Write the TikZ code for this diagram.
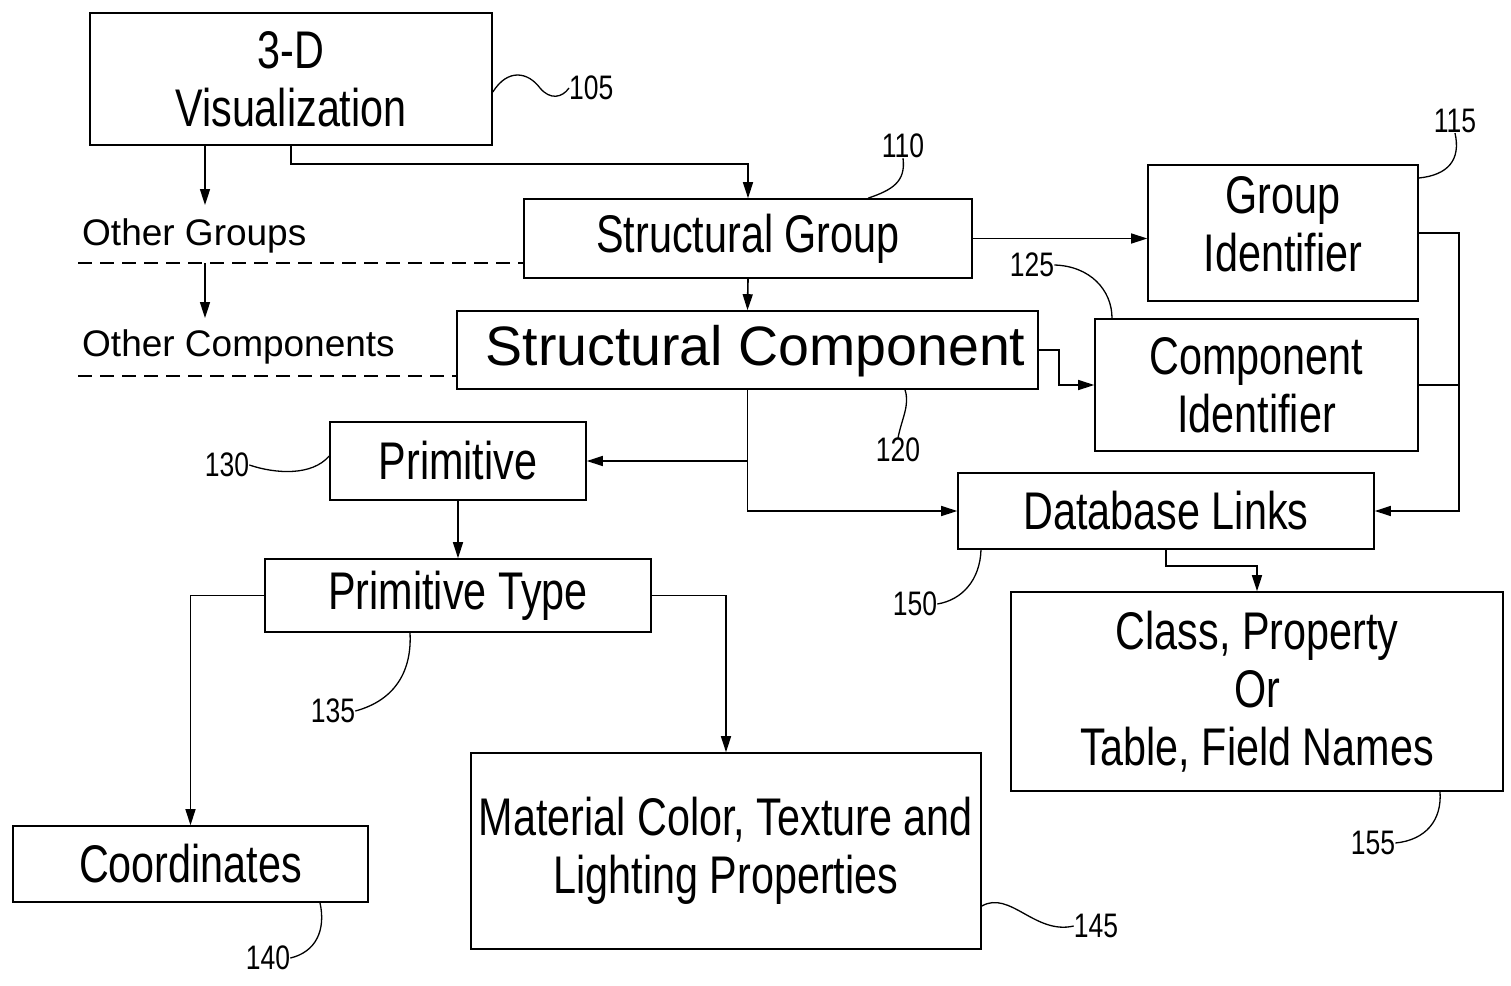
\documentclass[tikz,border=0pt]{standalone}
\usepackage{fontspec}
\setmainfont{Liberation Sans}
\newfontfamily\nf{Liberation Sans}[FakeStretch=0.78]
\usetikzlibrary{arrows.meta}
\tikzset{
  box/.style={draw=black, line width=1.6pt, rectangle, inner sep=0pt, align=center,
    font=\nf\fontsize{53}{58}\selectfont},
  boxtext/.style={inner sep=0pt, align=center, font=\nf\fontsize{53}{58}\selectfont},
  arr/.style={line width=1.6pt, -{Triangle[length=16pt,width=10pt]}},
  conn/.style={line width=1.6pt},
  lead/.style={line width=1.3pt},
  num/.style={inner sep=0pt, font=\nf\fontsize{34}{36}\selectfont},
  side/.style={inner sep=0pt, anchor=west, font=\fontsize{37}{40}\selectfont},
  dsh/.style={line width=1.3pt, dash pattern=on 14pt off 8pt},
}
\begin{document}
\begin{tikzpicture}[x=1pt,y=-1pt]
\useasboundingbox (0,0) rectangle (1511,985);
\fill[white] (0,0) rectangle (1511,985);
% boxes
\node[box, minimum width=402pt, minimum height=132pt] (vis) at (291,79) {3-D\\Visualization};
\node[box, minimum width=448pt, minimum height=79pt] (sg) at (748,238.5) {Structural Group};
\node[box, minimum width=270pt, minimum height=136pt,
  label={[boxtext, yshift=9pt]center:{Group\\Identifier}}] (gi) at (1283,233) {};
\node[box, minimum width=323pt, minimum height=132pt] (ci) at (1256.5,385) {Component\\Identifier};
\node[box, minimum width=581pt, minimum height=78pt,
  label={[inner sep=0pt, font=\fontsize{55.5}{58}\selectfont, xshift=8pt, yshift=-1pt]center:{Structural Component}}] (sc) at (747.5,350) {};
\node[box, minimum width=256pt, minimum height=78pt] (prim) at (458,461) {Primitive};
\node[box, minimum width=416pt, minimum height=76pt] (db) at (1166,511) {Database Links};
\node[box, minimum width=386pt, minimum height=73pt] (pt) at (458,595.5) {Primitive Type};
\node[box, minimum width=492pt, minimum height=199pt] (cls) at (1257,691.5) {Class, Property\\Or\\Table, Field Names};
\node[box, minimum width=355pt, minimum height=76pt] (coord) at (190.5,864) {Coordinates};
\node[box, minimum width=510pt, minimum height=196pt,
  label={[boxtext]center:{Material Color, Texture and\\Lighting Properties}}] (mat) at (726,851) {};
% side texts
\node[side] (otg) at (82,236) {Other Groups};
\node[side] (otc) at (82,347) {Other Components};
\coordinate (ogl) at (78,263);
\coordinate (ocl) at (78,376);
\coordinate (ogarr) at (205,205);
\coordinate (ogstart) at (205,263);
\coordinate (ocarr) at (205,318);
\draw[dsh] (ogl) -- (ogl -| sg.west);
\draw[dsh] (ocl) -- (ocl -| sc.west);
% connectors
\draw[arr] (vis.south -| ogarr) -- (ogarr);
\draw[arr] (ogstart) -- (ocarr);
\draw[arr] (vis.south) -- ++(0,18) -| (sg.north);
\draw[arr] (sg.south) -- (sc.north);
\draw[arr] (sg.east) -- (sg.east -| gi.west);
\draw[arr] (sc.east) -- ++(20,0) |- (ci.west);
\draw[arr] (sc.south) |- (db.west);
\draw[arr] (sc.south |- prim.east) -- (prim.east);
\draw[arr] (gi.east) -- ++(40,0) |- (db.east);
\draw[conn] (ci.east) -- ++(40,0);
\draw[arr] (db.south) -- ++(0,16) -| (cls.north);
\draw[arr] (prim.south) -- (pt.north);
\draw[arr] (pt.west) -| (coord.north);
\draw[arr] (pt.east) -| (mat.north);
% reference numerals
\node[num, anchor=west] (n105) at (569,88) {105};
\draw[lead] (vis.east |- 0,92) .. controls (508,68) and (528,72) .. (540,88) .. controls (550,100) and (562,98) .. (n105.west);
\node[num] (n110) at (903,146) {110};
\draw[lead] (sg.north -| 868,0) .. controls (892,190) and (906,182) .. (n110.south);
\node[num] (n115) at (1455,121) {115};
\draw[lead] (gi.east |- 0,178) .. controls (1448,175) and (1461,160) .. (n115.south);
\node[num] (n125) at (1032,265) {125};
\draw[lead] (n125.east) .. controls (1090,266) and (1112,290) .. (ci.north -| 1112,0);
\node[num] (n120) at (898,450) {120};
\draw[lead] (sc.south -| 905,0) .. controls (910,405) and (902,418) .. (n120.north);
\node[num] (n130) at (227,465) {130};
\draw[lead] (n130.east) .. controls (276,474) and (312,476) .. (prim.west |- 0,456);
\node[num] (n150) at (915,604) {150};
\draw[lead] (db.south -| 981,0) .. controls (980,580) and (962,600) .. (n150.east);
\node[num] (n135) at (333,711) {135};
\draw[lead] (pt.south -| 410,0) .. controls (412,670) and (396,700) .. (n135.east);
\node[num] (n155) at (1373,843) {155};
\draw[lead] (cls.south -| 1440,0) .. controls (1442,820) and (1426,840) .. (n155.east);
\node[num] (n140) at (268,958) {140};
\draw[lead] (coord.south -| 320,0) .. controls (326,930) and (316,952) .. (n140.east);
\node[num] (n145) at (1096,926) {145};
\draw[lead] (mat.east |- 0,906) .. controls (1010,890) and (1035,935) .. (n145.west);
\end{tikzpicture}
\end{document}
